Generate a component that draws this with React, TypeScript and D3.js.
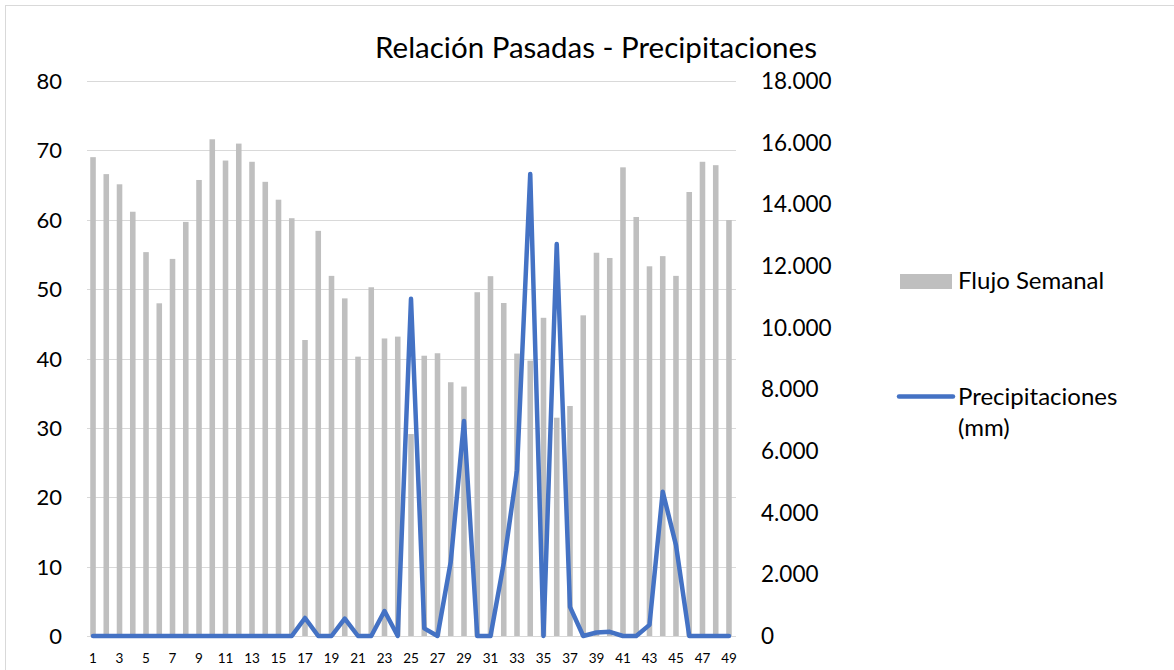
import React from "react";
import * as d3 from "d3";

const weeks: string[] = Array.from({ length: 49 }, (_, i) => String(i + 1));

const flujoSemanal: number[] = [
  15530, 14980, 14650, 13760, 12450, 10790, 12230, 13430, 14790, 16110,
  15420, 15970, 15380, 14730, 14150, 13550, 9600, 13140, 11680, 10950,
  9060, 11310, 9650, 9710, 6550, 9090, 9170, 8230, 8090, 11150,
  11670, 10800, 9160, 8930, 10320, 7080, 7460, 10400, 12430, 12260,
  15200, 13590, 11990, 12320, 11680, 14400, 15380, 15270, 13490,
];

const precipitaciones: number[] = [
  0, 0, 0, 0, 0, 0, 0, 0, 0, 0,
  0, 0, 0, 0, 0, 0, 2.6, 0, 0, 2.5,
  0, 0, 3.6, 0, 48.6, 1.1, 0, 10.7, 31.0, 0,
  0, 10.5, 23.9, 66.6, 0, 56.5, 4.2, 0, 0.5, 0.6,
  0, 0, 1.6, 20.8, 13.1, 0, 0, 0, 0,
];

const leftTicks: number[] = [0, 10, 20, 30, 40, 50, 60, 70, 80];
const rightTicks: number[] = [0, 2000, 4000, 6000, 8000, 10000, 12000, 14000, 16000, 18000];

const title = "Relación Pasadas - Precipitaciones";
const seriesNames = ["Flujo Semanal", "Precipitaciones", "(mm)"];

const W = 1174;
const H = 670;
const plot = { left: 86.4, right: 735.6, top: 81, bottom: 636 };
const FONT = "Lato, 'Open Sans', sans-serif";

export default function App() {
  const x = d3.scaleBand<string>().domain(weeks).range([plot.left, plot.right]).padding(0);
  const yL = d3.scaleLinear().domain([0, 80]).range([plot.bottom, plot.top]);
  const yR = d3.scaleLinear().domain([0, 18000]).range([plot.bottom, plot.top]);
  const bw = x.bandwidth() * 0.42;
  const cx = (w: string) => (x(w) as number) + x.bandwidth() / 2;

  const line = d3
    .line<number>()
    .x((_, i) => cx(weeks[i]))
    .y((d) => yL(d));

  const fmtR = (v: number) =>
    v === 0 ? "0" : d3.formatLocale({ decimal: ",", thousands: ".", grouping: [3], currency: ["", ""] }).format(",")(v);

  return (
    <svg
      width={W}
      height={H}
      style={{ position: "absolute", left: 0, top: 0, background: "#fff" }}
      fontFamily={FONT}
    >
      <rect x={5.5} y={5.5} width={W + 20} height={H + 20} fill="#fff" stroke="#D9D9D9" strokeWidth={1} />
      <text x={596} y={58} textAnchor="middle" fontSize={29.5} fill="#000">
        {title}
      </text>

      {leftTicks.map((t) => (
        <g key={"g" + t}>
          <line x1={87} x2={736} y1={Math.round(yL(t)) + 0.5} y2={Math.round(yL(t)) + 0.5} stroke="#D9D9D9" strokeWidth={1.2} />
          <text x={62} y={yL(t) + 8} textAnchor="end" fontSize={22} fill="#000">
            {t}
          </text>
        </g>
      ))}

      {rightTicks.map((t) => (
        <text key={"r" + t} x={761} y={yR(t) + 8} textAnchor="start" fontSize={22.5} fill="#000">
          {fmtR(t)}
        </text>
      ))}

      {flujoSemanal.map((v, i) => (
        <rect
          key={"b" + i}
          x={cx(weeks[i]) - bw / 2}
          y={yR(v)}
          width={bw}
          height={yR(0) - yR(v)}
          fill="#BFBFBF"
        />
      ))}

      <path
        d={line(precipitaciones) || ""}
        fill="none"
        stroke="#4472C4"
        strokeWidth={4.5}
        strokeLinejoin="round"
        strokeLinecap="round"
      />

      {weeks.map((w, i) =>
        i % 2 === 0 ? (
          <text key={"x" + w} x={cx(w)} y={663} textAnchor="middle" fontSize={13.5} fill="#000">
            {w}
          </text>
        ) : null
      )}

      <rect x={900} y={274} width={52} height={15} fill="#BFBFBF" />
      <text x={958} y={289} fontSize={24} fill="#000">
        {seriesNames[0]}
      </text>
      <line x1={899} x2={953} y1={396.5} y2={396.5} stroke="#4472C4" strokeWidth={4.5} strokeLinecap="round" />
      <text x={958} y={405} fontSize={24} fill="#000">
        {seriesNames[1]}
      </text>
      <text x={958} y={436} fontSize={24} fill="#000">
        {seriesNames[2]}
      </text>
    </svg>
  );
}
